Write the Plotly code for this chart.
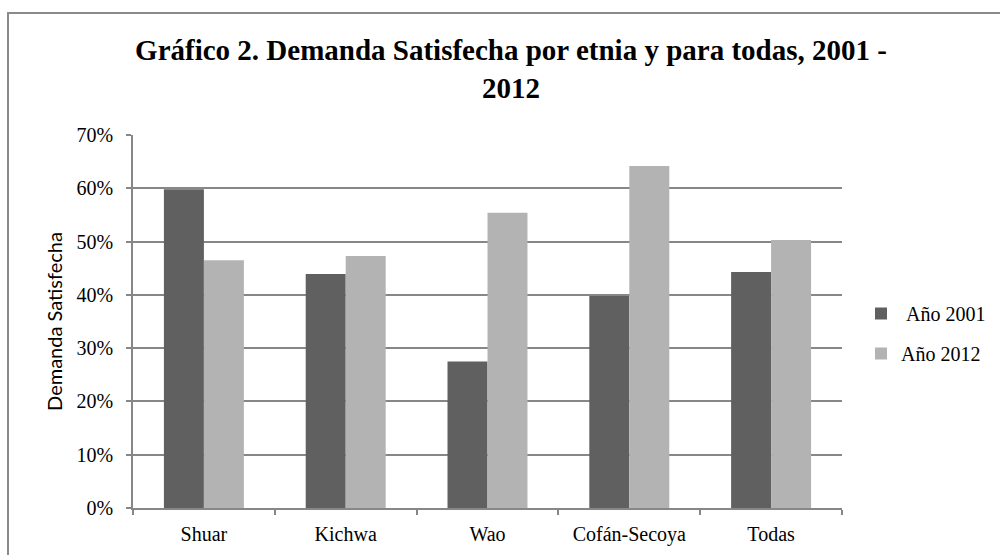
import plotly.graph_objects as go

categories = ["Shuar", "Kichwa", "Wao", "Cofán-Secoya", "Todas"]
anio_2001 = [0.598, 0.439, 0.275, 0.398, 0.443]
anio_2012 = [0.465, 0.473, 0.554, 0.642, 0.503]
series_names = ["\u00a0Año 2001", "Año 2012"]
y_ticks = [0, 0.1, 0.2, 0.3, 0.4, 0.5, 0.6, 0.7]
y_ticklabels = ["0%", "10%", "20%", "30%", "40%", "50%", "60%", "70%"]

GRID = "#878787"
SERIF = "Liberation Serif, Times New Roman, serif"

fig = go.Figure()
fig.add_trace(go.Bar(x=categories, y=anio_2001, name=series_names[0],
                     marker=dict(color="#606060", line=dict(width=0)),
                     legendgroup="a"))
fig.add_trace(go.Bar(x=categories, y=anio_2012, name=series_names[1],
                     marker=dict(color="#b3b3b3", line=dict(width=0)),
                     legendgroup="b"))

L, R, T, B = 133, 158, 135, 47
W, H = 1000, 555
pw, ph = W - L - R, H - T - B

fig.update_layout(
    width=W, height=H,
    margin=dict(l=L, r=R, t=T, b=B, pad=0, autoexpand=False),
    paper_bgcolor="white", plot_bgcolor="white",
    barmode="group", bargap=0.436, bargroupgap=0,
    font=dict(family=SERIF, size=20, color="black"),
    title=dict(
        text="<b>Gráfico 2. Demanda Satisfecha por etnia y para todas, 2001 -<br>2012</b>",
        x=0.511, xanchor="center", xref="container",
        y=1 - 60 / H, yanchor="middle",
        font=dict(family=SERIF, size=29, color="black"),
    ),
    xaxis=dict(
        showline=True, linecolor=GRID, linewidth=1.5,
        ticks="outside", tickson="boundaries", ticklen=5, tickcolor=GRID, tickwidth=1.5,
        ticklabelstandoff=7,
        tickfont=dict(family=SERIF, size=20, color="black"),
        showgrid=False,
    ),
    yaxis=dict(
        range=[0, 0.7], tickvals=y_ticks, ticktext=y_ticklabels,
        showline=True, linecolor=GRID, linewidth=1.5,
        ticks="outside", ticklen=5, tickcolor=GRID, tickwidth=1.5,
        ticklabelstandoff=9,
        tickfont=dict(family=SERIF, size=20, color="black"),
        showgrid=True, gridcolor=GRID, gridwidth=1.5, zeroline=False,
        title=dict(text="Demanda Satisfecha", standoff=9,
                   font=dict(family="Lato, Carlito, sans-serif", size=20, color="black")),
    ),
    legend=dict(
        x=(861 - L) / pw, xanchor="left",
        y=(H - B - 294) / ph, yanchor="top",
        font=dict(family=SERIF, size=20, color="black"),
        tracegroupgap=11, itemwidth=30, bgcolor="rgba(0,0,0,0)",
    ),
    showlegend=True,
    shapes=[dict(type="rect", xref="paper", yref="paper",
                 x0=(8 - L) / pw, x1=1.4, y0=-0.3, y1=(H - B - 13) / ph,
                 line=dict(color="#8a8a8a", width=2), fillcolor="rgba(0,0,0,0)",
                 layer="below")],
)

fig.write_html("out.html", config={"displayModeBar": False},
               post_script="document.body.style.margin='0';")
